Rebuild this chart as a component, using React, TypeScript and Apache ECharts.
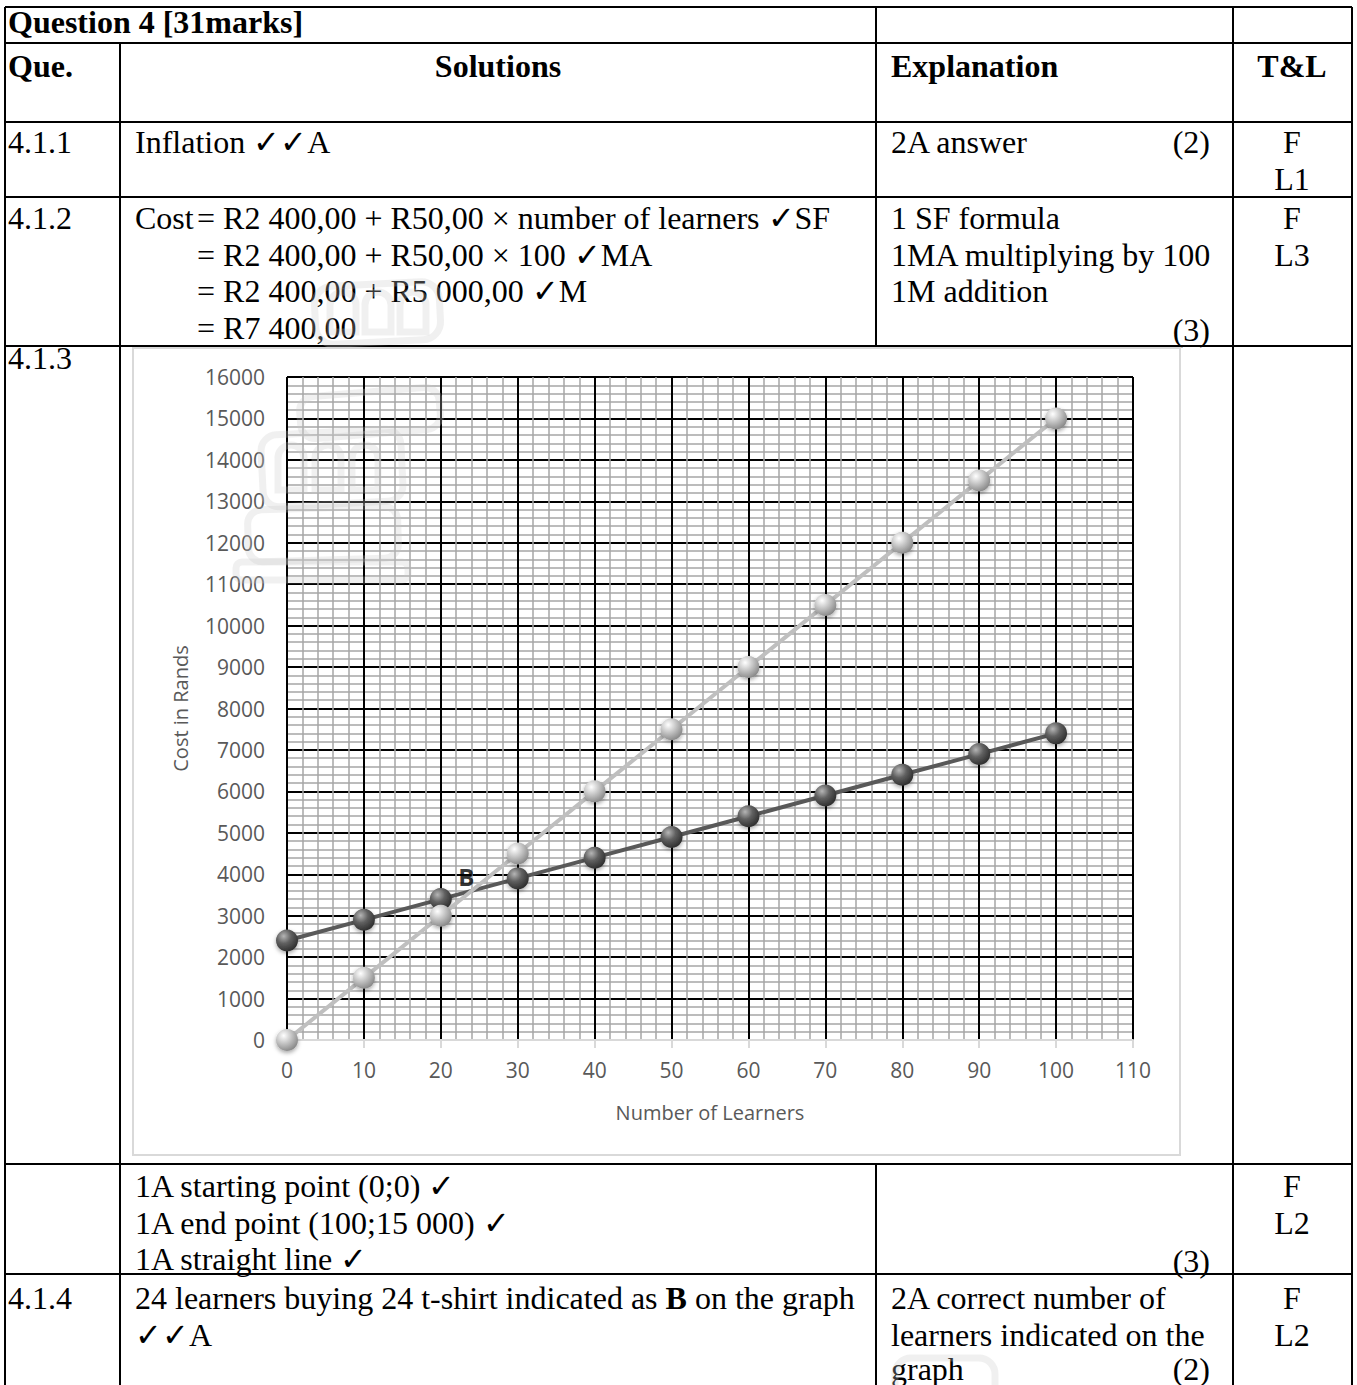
import React, { useEffect, useRef } from "react";
import * as echarts from "echarts";

// ---------------- data ----------------
const learners = [0, 10, 20, 30, 40, 50, 60, 70, 80, 90, 100];
const fixedPlanCost = [2400, 2900, 3400, 3900, 4400, 4900, 5400, 5900, 6400, 6900, 7400];
const perShirtCost = [0, 1500, 3000, 4500, 6000, 7500, 9000, 10500, 12000, 13500, 15000];
const breakEvenLabel = "B";
const breakEvenPoint = [23.3, 3940];
const xAxisTitle = "Number of Learners";
const yAxisTitle = "Cost in Rands";

const titleText = "Question 4 [31marks]";
const headerTexts = ["Que.", "Solutions", "Explanation", "T&L"];
const q411 = { no: "4.1.1", sol: ["Inflation \u2713\u2713A"], exp: ["2A answer"], mark: "(2)", tl: ["F", "L1"] };
const q412 = {
  no: "4.1.2",
  lead: "Cost",
  sol: [
    "= R2 400,00 + R50,00 \u00d7 number of learners \u2713SF",
    "= R2 400,00 + R50,00 \u00d7 100 \u2713MA",
    "= R2 400,00 + R5 000,00 \u2713M",
    "= R7 400,00",
  ],
  exp: ["1 SF formula", "1MA multiplying by 100", "1M addition"],
  mark: "(3)",
  tl: ["F", "L3"],
};
const q413 = {
  no: "4.1.3",
  sol: ["1A starting point (0;0) \u2713", "1A end point (100;15 000) \u2713", "1A straight line \u2713"],
  mark: "(3)",
  tl: ["F", "L2"],
};
const q414 = {
  no: "4.1.4",
  sol: ["24 learners buying 24 t-shirt indicated as {b|B} on the graph", "\u2713\u2713A"],
  exp: ["2A correct number of", "learners indicated on the", "graph"],
  mark: "(2)",
  tl: ["F", "L2"],
};

const SERIF = "'Liberation Serif', 'Times New Roman', 'DejaVu Serif', serif";
const SANS = "'Open Sans', 'Liberation Sans', sans-serif";
const FS = 32;

function txt(text: string, x: number, y: number, opts: any = {}) {
  return {
    type: "text",
    x,
    y,
    z: 20,
    silent: true,
    style: {
      text,
      fill: "#000",
      fontSize: FS,
      fontFamily: SERIF,
      fontWeight: opts.bold ? "bold" : "normal",
      textAlign: opts.align || "left",
      textVerticalAlign: "middle",
      rich: opts.rich,
    },
  };
}

function hl(y: number, x1 = 5, x2 = 1352) {
  return { type: "line", z: 20, silent: true, shape: { x1, y1: y, x2, y2: y }, style: { stroke: "#000", lineWidth: 2 } };
}
function vl(x: number, y1: number, y2: number) {
  return { type: "line", z: 20, silent: true, shape: { x1: x, y1, x2: x, y2 }, style: { stroke: "#000", lineWidth: 2 } };
}

function wm(x: number, y: number, w: number, h: number, r: any, rot = 0) {
  return {
    type: "rect",
    z: 30,
    silent: true,
    x: x + w / 2,
    y: y + h / 2,
    rotation: rot,
    shape: { x: -w / 2, y: -h / 2, width: w, height: h, r },
    style: { fill: "none", stroke: "#c8c8c8", lineWidth: 7, opacity: 0.28 },
  };
}

export default function App() {
  const ref = useRef<HTMLDivElement>(null);
  useEffect(() => {
    document.body.style.margin = "0";
    document.documentElement.style.overflow = "hidden";
    if (!ref.current) return;
    const chart = echarts.init(ref.current, undefined, { renderer: "svg" });

    const rows = [7, 43, 122, 197, 346, 1164, 1274];
    const colSol = 135;
    const colExp = 891;
    const markX = 1210;
    const tlX = 1292;
    const lh = 36.6;

    const graphics: any[] = [];
    rows.forEach((y) => graphics.push(hl(y)));
    graphics.push(vl(5, 7, 1385));
    graphics.push(vl(1352, 7, 1385));
    graphics.push(vl(120, 43, 1385));
    graphics.push(vl(876, 7, 346));
    graphics.push(vl(876, 1164, 1385));
    graphics.push(vl(1233, 7, 1385));
    graphics.push({
      type: "rect",
      z: 1,
      silent: true,
      shape: { x: 133, y: 348, width: 1047, height: 807 },
      style: { fill: "none", stroke: "#d9d9d9", lineWidth: 2 },
    });

    graphics.push(txt(titleText, 8, 22, { bold: true }));
    graphics.push(txt(headerTexts[0], 8, 66, { bold: true }));
    graphics.push(txt(headerTexts[1], 498, 66, { bold: true, align: "center" }));
    graphics.push(txt(headerTexts[2], colExp, 66, { bold: true }));
    graphics.push(txt(headerTexts[3], tlX, 66, { bold: true, align: "center" }));

    let y0 = 142;
    graphics.push(txt(q411.no, 8, y0));
    graphics.push(txt(q411.sol[0], colSol, y0));
    graphics.push(txt(q411.exp[0], colExp, y0));
    graphics.push(txt(q411.mark, markX, y0, { align: "right" }));
    q411.tl.forEach((t, i) => graphics.push(txt(t, tlX, y0 + i * lh, { align: "center" })));

    y0 = 218;
    graphics.push(txt(q412.no, 8, y0));
    graphics.push(txt(q412.lead, colSol, y0));
    q412.sol.forEach((t, i) => graphics.push(txt(t, 197, y0 + i * lh)));
    q412.exp.forEach((t, i) => graphics.push(txt(t, colExp, y0 + i * lh)));
    graphics.push(txt(q412.mark, markX, y0 + 3 * lh + 2, { align: "right" }));
    q412.tl.forEach((t, i) => graphics.push(txt(t, tlX, y0 + i * lh, { align: "center" })));

    graphics.push(txt(q413.no, 8, 358));
    y0 = 1186;
    q413.sol.forEach((t, i) => graphics.push(txt(t, colSol, y0 + i * lh)));
    graphics.push(txt(q413.mark, markX, y0 + 2 * lh + 2, { align: "right" }));
    q413.tl.forEach((t, i) => graphics.push(txt(t, tlX, y0 + i * lh, { align: "center" })));

    y0 = 1298;
    graphics.push(txt(q414.no, 8, y0));
    graphics.push(
      txt(q414.sol[0], colSol, y0, {
        rich: { b: { fontWeight: "bold", fontSize: FS, fontFamily: SERIF, fill: "#000" } },
      })
    );
    graphics.push(txt(q414.sol[1], colSol, y0 + lh));
    q414.exp.forEach((t, i) => graphics.push(txt(t, colExp, y0 + i * lh - (i === 2 ? 2 : 0))));
    graphics.push(txt(q414.mark, markX, y0 + 2 * lh - 2, { align: "right" }));
    q414.tl.forEach((t, i) => graphics.push(txt(t, tlX, y0 + i * lh, { align: "center" })));

    // watermark (faint logo)
    graphics.push(wm(315, 284, 125, 58, 18, 0.05));
    graphics.push(wm(330, 292, 26, 40, [13, 13, 0, 0]));
    graphics.push(wm(365, 292, 26, 40, [13, 13, 0, 0]));
    graphics.push(wm(400, 292, 26, 40, [13, 13, 0, 0]));
    graphics.push(wm(300, 392, 140, 42, 14, 0.08));
    graphics.push(wm(262, 432, 140, 72, 16, 0.05));
    graphics.push(wm(278, 445, 26, 45, [13, 13, 0, 0]));
    graphics.push(wm(315, 445, 26, 45, [13, 13, 0, 0]));
    graphics.push(wm(352, 445, 26, 45, [13, 13, 0, 0]));
    graphics.push(wm(248, 508, 150, 52, 14, 0.03));
    graphics.push(wm(236, 562, 172, 18, 6));
    graphics.push(wm(895, 1358, 100, 50, 16));

    const sphere = (c0: string, c1: string, c2: string) => ({
      type: "radial",
      x: 0.35,
      y: 0.3,
      r: 0.75,
      colorStops: [
        { offset: 0, color: c0 },
        { offset: 0.45, color: c1 },
        { offset: 1, color: c2 },
      ],
    });

    const option: any = {
      animation: false,
      backgroundColor: "#fff",
      grid: { left: 287, top: 377, width: 846, height: 663, containLabel: false },
      xAxis: {
        type: "value",
        min: 0,
        max: 110,
        interval: 10,
        name: xAxisTitle,
        nameLocation: "middle",
        nameGap: 62,
        nameTextStyle: { fontFamily: SANS, fontSize: 20, color: "#595959" },
        axisLine: { show: true, lineStyle: { color: "#d9d9d9", width: 2 } },
        axisTick: { show: true, length: 8, lineStyle: { color: "#d9d9d9", width: 2 } },
        axisLabel: { margin: 19, fontFamily: SANS, fontSize: 21, color: "#595959", formatter: (v: number) => String(v) },
        splitLine: { show: true, lineStyle: { color: "#000", width: 2 } },
        minorTick: { show: false, splitNumber: 5 },
        minorSplitLine: { show: true, lineStyle: { color: "#a6a6a6", width: 1.5 } },
      },
      yAxis: {
        type: "value",
        min: 0,
        max: 16000,
        interval: 1000,
        name: yAxisTitle,
        nameLocation: "middle",
        nameGap: 97,
        nameTextStyle: { fontFamily: SANS, fontSize: 20, color: "#595959" },
        axisLine: { show: false },
        axisTick: { show: false },
        axisLabel: { margin: 22, fontFamily: SANS, fontSize: 21, color: "#595959", formatter: (v: number) => String(v) },
        splitLine: { show: true, lineStyle: { color: "#000", width: 2 } },
        minorTick: { show: false, splitNumber: 5 },
        minorSplitLine: { show: true, lineStyle: { color: "#a6a6a6", width: 1.5 } },
      },
      series: [
        {
          type: "line",
          name: "Fixed",
          data: learners.map((x, i) => [x, fixedPlanCost[i]]),
          symbol: "circle",
          symbolSize: 22,
          lineStyle: { color: "#595959", width: 4 },
          itemStyle: {
            color: sphere("#b5b5b5", "#606060", "#2b2b2b"),
            shadowBlur: 4,
            shadowColor: "rgba(0,0,0,0.35)",
            shadowOffsetY: 2,
          },
          z: 3,
        },
        {
          type: "line",
          name: "Per shirt",
          data: learners.map((x, i) => [x, perShirtCost[i]]),
          symbol: "circle",
          symbolSize: 22,
          lineStyle: { color: "#bfbfbf", width: 4 },
          itemStyle: {
            color: sphere("#ffffff", "#c8c8c8", "#858585"),
            shadowBlur: 4,
            shadowColor: "rgba(0,0,0,0.35)",
            shadowOffsetY: 2,
          },
          z: 4,
        },
        {
          type: "scatter",
          name: "B",
          data: [breakEvenPoint],
          symbolSize: 0,
          z: 5,
          label: {
            show: true,
            position: "inside",
            formatter: breakEvenLabel,
            fontFamily: SANS,
            fontWeight: "bold",
            fontSize: 24,
            color: "#000",
          },
        },
      ],
      graphic: graphics,
    };
    chart.setOption(option);
    return () => chart.dispose();
  }, []);
  return <div ref={ref} style={{ position: "absolute", left: 0, top: 0, width: 1357, height: 1385 }} />;
}
